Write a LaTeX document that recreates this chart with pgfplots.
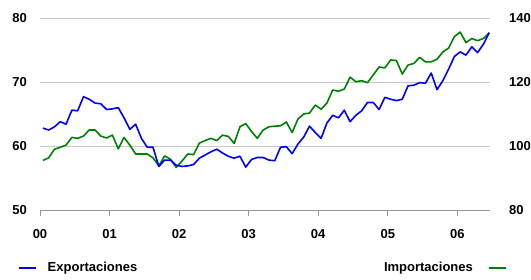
\documentclass[border=0pt]{standalone}
\usepackage{pgfplots}
\usepackage{pgfplotstable}
\pgfplotsset{compat=1.18}
\usepackage{fontspec}
\setmainfont{Liberation Sans}
\definecolor{gridgray}{RGB}{200,200,200}
\definecolor{axisgray}{RGB}{150,150,150}
\definecolor{impgreen}{RGB}{0,128,0}
\definecolor{expblue}{RGB}{0,0,255}
\newcommand{\lblfont}{\bfseries\fontsize{13bp}{15bp}\selectfont}
\pgfplotstableread{
m exp imp
0 62.8 95.5
1 62.5 96.3
2 63.0 99.0
3 63.8 99.6
4 63.4 100.3
5 65.6 102.7
6 65.5 102.4
7 67.7 103.1
8 67.3 105.0
9 66.7 105.0
10 66.6 103.1
11 65.7 102.5
12 65.8 103.4
13 66.0 99.1
14 64.4 102.7
15 62.6 100.3
16 63.4 97.5
17 61.2 97.5
18 59.8 97.5
19 59.8 96.3
20 56.8 93.8
21 57.8 96.9
22 57.8 95.9
23 57.0 93.3
24 56.8 95.3
25 56.9 97.5
26 57.1 97.3
27 58.1 100.9
28 58.6 101.7
29 59.1 102.4
30 59.5 101.7
31 58.9 103.4
32 58.4 103.0
33 58.1 100.8
34 58.4 106.0
35 56.7 107.0
36 57.9 104.5
37 58.2 102.4
38 58.2 105.0
39 57.8 106.0
40 57.7 106.2
41 59.8 106.3
42 59.9 107.5
43 58.8 104.2
44 60.3 108.4
45 61.4 110.0
46 63.1 110.3
47 62.1 112.8
48 61.2 111.5
49 63.6 113.4
50 64.8 117.5
51 64.4 117.1
52 65.6 117.8
53 63.8 121.5
54 64.8 120.1
55 65.5 120.4
56 66.8 119.8
57 66.8 122.2
58 65.7 124.7
59 67.6 124.4
60 67.3 126.9
61 67.1 126.7
62 67.3 122.5
63 69.4 125.3
64 69.5 125.8
65 69.9 127.7
66 69.8 126.3
67 71.4 126.3
68 68.8 127.1
69 70.2 129.4
70 72.0 130.6
71 74.0 134.2
72 74.7 135.6
73 74.2 132.3
74 75.5 133.6
75 74.6 132.9
76 75.9 133.6
77 77.7 135.4
}\datatable
\pgfplotsset{
  base/.style={
    scale only axis, width=450bp, height=192bp,
    at={(0,0)}, anchor=south west,
    xmin=-0.5, xmax=77.14,
    tick label style={font=\lblfont},
    legend style={font=\lblfont, draw=none, fill=none, inner sep=0pt},
  }
}
\begin{document}
\begin{tikzpicture}
\path[use as bounding box] (-40bp,-70bp) rectangle (491bp,210bp);
% right axis: Importaciones
\begin{axis}[base,
  separate axis lines,
  axis x line*=bottom, axis y line*=right,
  x axis line style={draw=axisgray, line width=1bp},
  y axis line style={draw=none},
  xtick={-0.5,11.5,23.5,35.5,47.5,59.5,71.5},
  xticklabels={00,01,02,03,04,05,06},
  xtick style={draw=axisgray, line width=1bp},
  tick align=outside, major tick length=6bp,
  xticklabel style={anchor=north, inner sep=0pt, yshift=-13bp},
  ymin=80, ymax=140, ytick={80,100,120,140},
  yticklabels={80,100,120,140},
  ytick style={draw=none},
  yticklabel style={anchor=west, inner sep=0pt, xshift=13bp},
  ymajorgrids, grid style={draw=gridgray, line width=0.9bp},
  legend plot pos=right,
  legend style={at={(axis description cs:1.037,-0.302)}, anchor=east},
]
\addplot[impgreen, line width=1.6bp, line join=round] table[x=m, y=imp] {\datatable};
\addlegendentry{Importaciones\hspace*{13bp}}
\end{axis}
% left axis: Exportaciones
\begin{axis}[base,
  hide x axis,
  axis y line*=left,
  y axis line style={draw=none},
  ymin=50, ymax=80, ytick={50,60,70,80},
  yticklabels={50,60,70,80},
  ytick style={draw=none},
  yticklabel style={anchor=east, inner sep=0pt, xshift=-13bp},
  legend style={at={(axis description cs:-0.049,-0.302)}, anchor=west},
]
\addplot[expblue, line width=1.6bp, line join=round] table[x=m, y=exp] {\datatable};
\addlegendentry{\hspace*{9bp}Exportaciones}
\end{axis}
\end{tikzpicture}
\end{document}
